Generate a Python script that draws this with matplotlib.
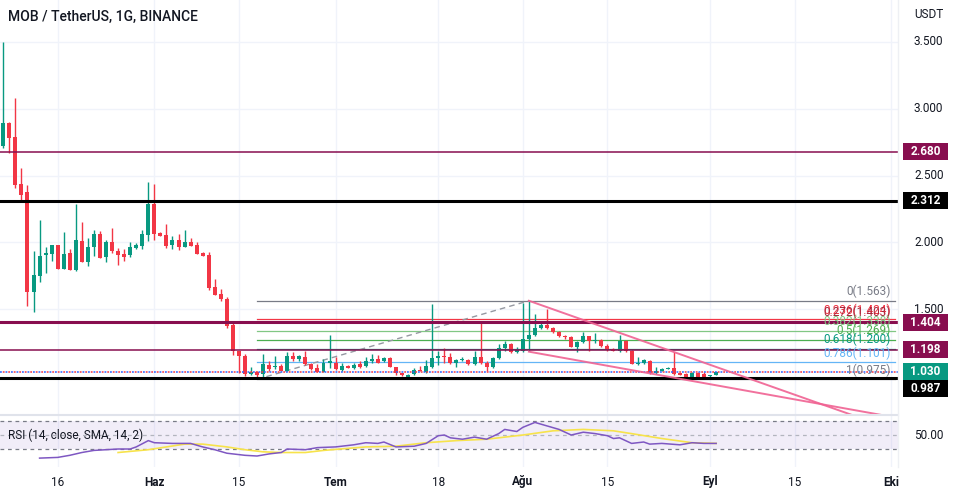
import matplotlib
matplotlib.use("Agg")
import matplotlib.pyplot as plt
from matplotlib.patches import Rectangle
from matplotlib.transforms import blended_transform_factory

plt.rcParams['font.family'] = ['Roboto', 'DejaVu Sans']

# daily candles, MOB/USDT
opens = [2.72, 2.89, 2.79, 2.437, 2.377, 1.631, 1.751, 1.906, 1.911, 1.98,
         1.803, 1.921, 1.793, 2.01, 1.856, 1.968, 2.063, 1.893, 2.003, 1.936,
         1.913, 1.908, 1.96, 1.976, 2.058, 2.287, 2.07, 2.055, 1.983, 2.018,
         1.966, 2.003, 1.98, 1.921, 1.906, 1.666, 1.614, 1.579, 1.384, 1.185,
         1.15, 1.017, 1.03, 1.013, 1.082, 1.065, 1.075, 1.04, 1.15, 1.127,
         1.14, 1.088, 1.058, 1.032, 1.095, 1.10, 1.045, 1.075, 1.06, 1.09,
         1.075, 1.115, 1.127, 1.11, 1.135, 1.065, 1.025, 0.995, 1.015, 1.042,
         1.028, 1.067, 1.133, 1.15, 1.145, 1.095, 1.12, 1.12, 1.087, 1.14,
         1.10, 1.065, 1.137, 1.207, 1.237, 1.177, 1.187, 1.277, 1.31, 1.357,
         1.38, 1.36, 1.33, 1.30, 1.29, 1.22, 1.257, 1.30, 1.262, 1.27,
         1.227, 1.20, 1.19, 1.262, 1.19, 1.088, 1.10, 1.115, 1.02, 1.04,
         1.055, 1.063, 1.02, 1.015, 0.995, 1.02, 1.015, 1.00, 1.01]
highs = [3.50, 2.90, 3.08, 2.557, 2.43, 1.938, 2.168, 1.963, 1.98, 1.98,
         2.08, 1.951, 2.287, 2.15, 2.03, 2.093, 2.083, 2.018, 2.108, 1.956,
         1.951, 2.0, 1.998, 2.093, 2.452, 2.437, 2.078, 2.138, 2.048, 2.063,
         2.093, 2.033, 2.0, 1.93, 1.93, 1.726, 1.649, 1.589, 1.394, 1.19,
         1.162, 1.065, 1.04, 1.165, 1.115, 1.15, 1.087, 1.18, 1.18, 1.16,
         1.187, 1.10, 1.087, 1.125, 1.307, 1.14, 1.095, 1.08, 1.095, 1.11,
         1.145, 1.165, 1.16, 1.14, 1.14, 1.065, 1.025, 1.015, 1.06, 1.075,
         1.12, 1.54, 1.187, 1.207, 1.17, 1.13, 1.14, 1.13, 1.19, 1.41,
         1.11, 1.145, 1.24, 1.26, 1.25, 1.22, 1.544, 1.563, 1.462, 1.41,
         1.50, 1.37, 1.335, 1.31, 1.30, 1.26, 1.33, 1.30, 1.32, 1.28,
         1.24, 1.21, 1.307, 1.27, 1.195, 1.145, 1.125, 1.118, 1.07, 1.062,
         1.07, 1.177, 1.02, 1.025, 1.03, 1.03, 1.03, 1.01, 1.03]
lows = [2.71, 2.67, 2.41, 2.312, 1.526, 1.481, 1.706, 1.773, 1.863, 1.799,
        1.80, 1.79, 1.788, 1.85, 1.826, 1.898, 1.886, 1.856, 1.923, 1.831,
        1.86, 1.893, 1.948, 1.948, 2.013, 2.018, 2.05, 1.958, 1.95, 1.94,
        1.966, 1.973, 1.911, 1.90, 1.644, 1.609, 1.559, 1.359, 1.159, 1.02,
        1.00, 1.01, 0.975, 0.98, 1.04, 1.05, 1.035, 1.035, 1.115, 1.115,
        1.085, 1.045, 1.03, 1.028, 1.06, 1.045, 1.04, 1.058, 1.052, 1.06,
        1.068, 1.10, 1.10, 1.105, 1.065, 1.01, 1.0, 0.985, 1.01, 1.035,
        1.025, 1.06, 1.08, 1.095, 1.09, 1.07, 1.11, 1.08, 1.08, 1.09,
        1.037, 1.06, 1.13, 1.19, 1.17, 1.17, 1.18, 1.185, 1.30, 1.35,
        1.35, 1.32, 1.295, 1.28, 1.215, 1.183, 1.25, 1.19, 1.25, 1.22,
        1.19, 1.185, 1.183, 1.183, 1.09, 1.085, 1.09, 1.015, 1.015, 1.035,
        1.05, 1.01, 1.005, 0.985, 0.985, 0.985, 0.985, 0.985, 1.005]
closes = [2.89, 2.784, 2.432, 2.357, 1.631, 1.756, 1.898, 1.918, 1.98, 1.803,
          1.913, 1.793, 2.018, 1.856, 1.966, 2.063, 1.886, 2.003, 1.938, 1.906,
          1.893, 1.963, 1.98, 2.063, 2.287, 2.063, 2.05, 1.976, 2.018, 1.966,
          2.003, 1.973, 1.911, 1.90, 1.661, 1.609, 1.579, 1.376, 1.185, 1.15,
          1.017, 1.03, 1.008, 1.088, 1.05, 1.075, 1.04, 1.15, 1.127, 1.15,
          1.088, 1.05, 1.032, 1.095, 1.11, 1.05, 1.075, 1.062, 1.082, 1.067,
          1.115, 1.127, 1.10, 1.135, 1.065, 1.025, 1.01, 1.008, 1.045, 1.038,
          1.075, 1.136, 1.15, 1.14, 1.095, 1.12, 1.123, 1.087, 1.14, 1.095,
          1.065, 1.137, 1.207, 1.237, 1.177, 1.195, 1.277, 1.31, 1.357, 1.38,
          1.36, 1.33, 1.30, 1.29, 1.22, 1.257, 1.30, 1.26, 1.27, 1.227,
          1.20, 1.19, 1.262, 1.19, 1.09, 1.10, 1.118, 1.02, 1.04, 1.055,
          1.063, 1.015, 1.01, 0.99, 1.025, 0.995, 0.995, 1.005, 1.03]

# RSI(14) and its SMA, sampled at candle index
rsi_x = [6, 9, 11, 13, 15, 17, 19, 21, 22, 24, 25, 28, 31, 33, 35, 37, 40, 42,
         44, 46, 47, 50, 52, 55, 58, 60, 62, 63, 65, 68, 70, 72, 73, 74, 76, 78,
         80, 82, 83, 85, 86, 88, 90, 92, 94, 96, 98, 100, 101, 102, 104, 106,
         107, 109, 112, 114, 116, 118]
rsi_y = [17, 18, 21, 25, 28, 29, 30, 30, 33, 42, 39, 38, 38, 33, 29, 24, 21, 20,
         23, 25, 30, 29, 32, 33, 36, 39, 38, 40, 33, 34, 38, 49, 50, 46, 44, 47,
         44, 52, 58, 55, 61, 68, 63, 58, 50, 54, 52, 49, 45, 46, 38, 40, 37, 38,
         36, 39, 38, 38]
sma_x = [19, 24, 30, 33, 37, 40, 43, 46, 50, 53, 60, 65, 70, 75, 80, 86, 91, 96,
         101, 104, 109, 114, 118]
sma_y = [25, 29, 37, 37, 33, 29, 26, 25, 25, 28, 33, 34, 39, 42, 44, 50, 56, 58,
         56, 52, 45, 39, 38]

# horizontal levels drawn on the chart: price, colour, line width
level_prices = [2.680, 2.312, 1.404, 1.198, 0.987]
level_colors = ['#880E4F', '#000000', '#880E4F', '#880E4F', '#000000']
level_widths = [1.1, 2.2, 2.2, 1.1, 2.2]
last_price = 1.030

# fib retracement from the 0.975 low to the 1.563 high
fib_start, fib_end = 42, 147.6
fib_ratios = [0, 0.236, 0.272, 0.382, 0.5, 0.618, 0.786, 1]
fib_prices = [1.563, 1.424, 1.403, 1.338, 1.269, 1.200, 1.101, 0.975]
fib_colors = ['#787B86', '#F23645', '#A8263A', '#81C784', '#4CAF50', '#089981',
              '#64B5F6', '#787B86']

# trend lines (index, price)
dash_line = [(42, 0.975), (87, 1.563)]
wedge_top = [(87, 1.563), (140.5, 0.708)]
wedge_bot = [(87, 1.182), (145.4, 0.708)]

tick_idx = [9, 25, 39, 55, 72, 86, 100, 117, 131, 147]
tick_lbl = ['16', 'Haz', '15', 'Tem', '18', 'Ağu', '15', 'Eyl', '15', 'Eki']
month_lbl = {'Haz', 'Tem', 'Ağu', 'Eyl', 'Eki'}
price_ticks = [1.5, 2.0, 2.5, 3.0, 3.5]

UP, DOWN = '#089981', '#F23645'
TXT = '#131722'
GRID = '#F0F3FA'
W, H = 959, 497
XLIM = (-0.55, 148.1)

fig = plt.figure(figsize=(W / 100, H / 100), dpi=100)
pane_w = 898 / W
ax = fig.add_axes([0, 82 / H, pane_w, 415 / H])
rsi_ax = fig.add_axes([0, 30 / H, pane_w, 52 / H])
for a in (ax, rsi_ax):
    a.set_xlim(*XLIM)
    a.set_xticks([])
    a.set_yticks([])
    for s in a.spines.values():
        s.set_visible(False)
ax.set_ylim(0.708, 3.814)
rsi_ax.set_ylim(4.3, 78.6)

# grid
for t in tick_idx:
    ax.axvline(t, color=GRID, lw=1, zorder=0)
    rsi_ax.axvline(t, color=GRID, lw=1, zorder=0)
for p in price_ticks:
    ax.axhline(p, color=GRID, lw=1, zorder=0)

# candles
n = len(closes)
idx = list(range(n))
cols = [UP if c >= o else DOWN for o, c in zip(opens, closes)]
ax.vlines(idx, lows, highs, colors=cols, lw=1, zorder=3)
bottoms = [min(o, c) for o, c in zip(opens, closes)]
heights = [max(abs(c - o), 0.004) for o, c in zip(opens, closes)]
ax.bar(idx, heights, bottom=bottoms, width=0.66, color=cols, lw=0, zorder=4)

# horizontal levels
for p, c, w in zip(level_prices, level_colors, level_widths):
    ax.axhline(p, color=c, lw=w, zorder=5)

# last price line, blue/red dotted
ax.axhline(last_price, color='#2962FF', lw=1.1, ls=(0, (1.2, 2.4)), zorder=5)
ax.axhline(last_price, color=DOWN, lw=1.1, ls=(1.8, (1.2, 2.4)), zorder=5)

# fib retracement
for r, p, c in zip(fib_ratios, fib_prices, fib_colors):
    ax.plot([fib_start, fib_end], [p, p], color=c, lw=0.9, zorder=2)
    ax.annotate('%s(%.3f)' % (('%g' % r), p), (146.9, p), xytext=(0, 2),
                textcoords='offset points', ha='right', va='bottom',
                fontsize=8.5, color=c, zorder=6)

# trend lines
ax.plot(*zip(*dash_line), color='#9598A1', lw=1, ls=(0, (4, 3)), zorder=2)
for tl in (wedge_top, wedge_bot):
    ax.plot(*zip(*tl), color='#F06292', lw=1.4, alpha=0.9, zorder=6)

# RSI pane
rsi_ax.axhspan(30, 70, color='#7E57C2', alpha=0.1, lw=0, zorder=0)
for lvl, c in ((70, '#787B86'), (50, '#B2B5BE'), (30, '#787B86')):
    rsi_ax.axhline(lvl, color=c, lw=0.9, ls=(0, (3, 3)), zorder=1)
rsi_ax.plot(sma_x, sma_y, color='#F7E34B', lw=1.2, zorder=2)
rsi_ax.plot(rsi_x, rsi_y, color='#7E57C2', lw=1.1, zorder=3)
rsi_ax.text(8 / 898, 50, 'RSI (14, close, SMA, 14, 2)', transform=blended_transform_factory(rsi_ax.transAxes, rsi_ax.transData),
            fontsize=8.5, color=TXT, va='center', ha='left')

# pane separators
fig.add_artist(plt.Line2D([0, pane_w], [82 / H, 82 / H], color='#E0E3EB', lw=1.5))
fig.add_artist(plt.Line2D([pane_w, pane_w], [30 / H, 1], color='#EEF0F4', lw=1))

# time axis labels
tt = blended_transform_factory(rsi_ax.transData, fig.transFigure)
for t, l in zip(tick_idx, tick_lbl):
    fig.text(t, 1 - 482 / H, l, transform=tt, ha='center', va='center',
             fontsize=8.5, color=TXT, fontweight='bold' if l in month_lbl else 'normal')

# price axis
pt = blended_transform_factory(fig.transFigure, ax.transData)
for p in price_ticks:
    fig.text(914 / W, p, '%.3f' % p, transform=pt, ha='left', va='center',
             fontsize=8.5, color=TXT)
fig.text(914 / W, 1 - 14 / H, 'USDT', ha='left', va='center', fontsize=8.5, color=TXT)
rt = blended_transform_factory(fig.transFigure, rsi_ax.transData)
fig.text(914 / W, 50, '50.00', transform=rt, ha='left', va='center', fontsize=8.5, color=TXT)

# price tags, pushed apart when they would overlap
tags = list(zip(level_prices, level_colors)) + [(last_price, UP)]
tags.sort(key=lambda t: -t[0])
prev = None
box_h = 17
for p, c in tags:
    y = H - ax.transData.transform((0, p))[1]
    if prev is not None and y - prev < box_h:
        y = prev + box_h
    prev = y
    fig.add_artist(Rectangle((903 / W, 1 - (y + box_h / 2) / H), 45 / W, box_h / H,
                             transform=fig.transFigure, color=c, lw=0))
    fig.text(925.5 / W, 1 - y / H, '%.3f' % p, ha='center', va='center',
             fontsize=8.5, color='white', fontweight='bold')

fig.text(8 / W, 1 - 17 / H, 'MOB / TetherUS, 1G, BINANCE', ha='left', va='center',
         fontsize=10, color=TXT, fontweight='medium')

fig.savefig('out.png', dpi=100)
